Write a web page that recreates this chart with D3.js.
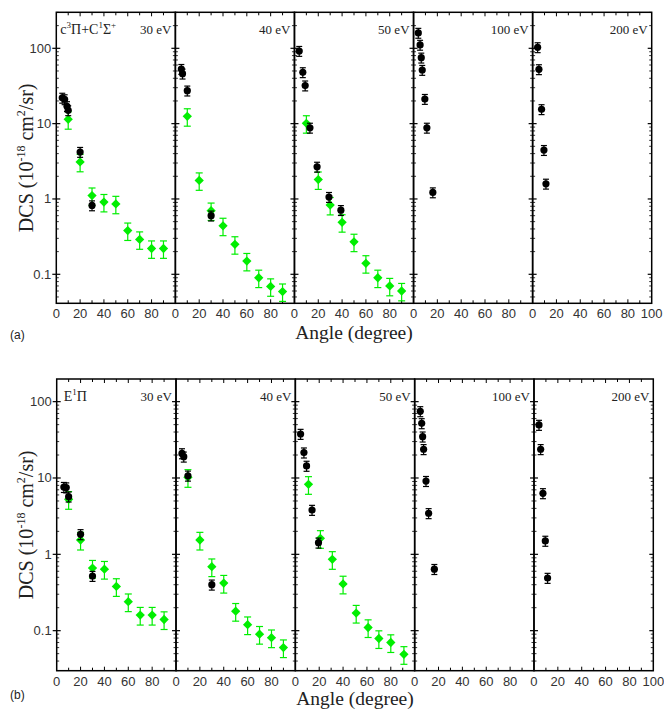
<!DOCTYPE html>
<html><head><meta charset="utf-8">
<script src="https://cdn.jsdelivr.net/npm/d3@7"></script>
<style>body{margin:0;background:#fff}svg{display:block}</style>
</head><body>
<svg id="c" width="664" height="711"></svg>
<script>
// ---------- data ----------
const energies = ["30 eV", "40 eV", "50 eV", "100 eV", "200 eV"];
const xTicks = [0, 20, 40, 60, 80, 100];
const yTicks = [0.1, 1, 10, 100];
const yTickLabels = ["0.1", "1", "10", "100"];

// (a) c3Pi + C1Sigma+ : [angle, DCS]
const aBlack30 = [[5, 22], [7, 21], [9, 17], [10, 15], [20, 4.2], [30, 0.82]];
const aGreen30 = [[10, 11.4], [20, 3.1], [30, 1.11], [40, 0.91], [50, 0.86], [60, 0.38], [70, 0.29], [80, 0.22], [90, 0.22]];
const aBlack40 = [[5, 53], [6, 46], [10, 27.4], [30, 0.6]];
const aGreen40 = [[10, 12.5], [20, 1.76], [30, 0.7], [40, 0.44], [50, 0.25], [60, 0.15], [70, 0.09], [80, 0.069], [90, 0.059]];
const aBlack50 = [[4, 92], [7, 48], [9, 32], [13, 8.8], [19, 2.67], [29, 1.06], [39, 0.71]];
const aGreen50 = [[10, 10.1], [20, 1.81], [30, 0.83], [40, 0.49], [50, 0.27], [60, 0.14], [70, 0.09], [80, 0.07], [90, 0.06]];
const aBlack100 = [[4, 160], [5.5, 111], [6.5, 75], [7.3, 51.5], [9.5, 21.2], [11.2, 8.8], [16.2, 1.22]];
const aBlack200 = [[4.2, 103], [5.3, 52.6], [7.5, 15.5], [9.5, 4.45], [11.2, 1.59]];

// (b) E1Pi
const bBlack30 = [[6, 7.6], [8, 7.5], [10, 5.7], [20, 1.83], [30, 0.52]];
const bGreen30 = [[10, 5.26], [20, 1.54], [30, 0.66], [40, 0.64], [50, 0.38], [60, 0.24], [70, 0.16], [80, 0.16], [90, 0.14]];
const bBlack40 = [[5, 21], [6.5, 19], [10, 10.7], [30, 0.4]];
const bGreen40 = [[10, 10.2], [20, 1.54], [30, 0.69], [40, 0.42], [50, 0.18], [60, 0.12], [70, 0.09], [80, 0.081], [90, 0.06]];
const bBlack50 = [[4.4, 37.7], [7.2, 21.5], [9.4, 14.4], [14, 3.81], [19.4, 1.42]];
const bGreen50 = [[11, 8.26], [21, 1.62], [31, 0.86], [40, 0.41], [51, 0.17], [61, 0.11], [70, 0.079], [80, 0.07], [91, 0.049]];
const bBlack100 = [[4.7, 74.7], [5.9, 52], [6.7, 34.8], [7.5, 23.8], [9.5, 9.1], [11.7, 3.45], [16.5, 0.64]];
const bBlack200 = [[4.2, 49.5], [5.6, 23.8], [7.5, 6.3], [9.5, 1.5], [11.4, 0.49]];

const blackErr = 0.15;   // relative error bars
const greenErr = 0.26;

// ---------- drawing ----------
const svg = d3.select("#c");
const GREEN = "#00ee00";

function drawRow(cfg) {
  const pw = (cfg.right - cfg.left) / 5;
  const y = d3.scaleLog().domain(cfg.ydom).range([cfg.bottom, cfg.top]);
  const g = svg.append("g");
  const minors = [];
  for (let d = -2; d <= 2; d++) for (let m = 2; m <= 9; m++) {
    const v = m * Math.pow(10, d);
    if (v > cfg.ydom[0] && v < cfg.ydom[1]) minors.push(v);
  }
  cfg.sets.forEach((s, i) => {
    const x0 = cfg.left + i * pw;
    const x = d3.scaleLinear().domain([0, 100]).range([x0, x0 + pw]);
    const p = g.append("g");
    d3.range(10, 100, 10).forEach(t => {
      const len = t % 20 === 0 ? 4 : 3;
      p.append("line").attr("x1", x(t)).attr("x2", x(t)).attr("y1", cfg.bottom).attr("y2", cfg.bottom - len).attr("stroke", "#000").attr("stroke-width", 1);
      p.append("line").attr("x1", x(t)).attr("x2", x(t)).attr("y1", cfg.top).attr("y2", cfg.top + len).attr("stroke", "#000").attr("stroke-width", 1);
    });
    [x0, x0 + pw].forEach((ex, k) => {
      const dir = k === 0 ? 1 : -1;
      yTicks.forEach(t => {
        p.append("line").attr("x1", ex - 4 * dir * (i === 0 && k === 0 ? 1 : 0)).attr("x2", ex + 4 * dir).attr("y1", y(t)).attr("y2", y(t)).attr("stroke", "#000").attr("stroke-width", 1.2);
      });
      minors.forEach(t => {
        p.append("line").attr("x1", ex).attr("x2", ex + 2.5 * dir).attr("y1", y(t)).attr("y2", y(t)).attr("stroke", "#000").attr("stroke-width", 0.8);
      });
    });
    const labs = i === 4 ? xTicks : xTicks.slice(0, 5);
    labs.forEach(t => {
      g.append("text").attr("x", x(t)).attr("y", cfg.bottom + 15).attr("text-anchor", "middle")
        .attr("font-family", "Liberation Sans, Arial, sans-serif").attr("font-size", 13).attr("fill", "#333").text(t);
    });
    g.append("text").attr("x", x0 + pw - 4).attr("y", cfg.top + cfg.labDy).attr("text-anchor", "end")
      .attr("font-family", "Liberation Serif, Times New Roman, serif").attr("font-size", 13).attr("fill", "#222").text(energies[i]);
    const drawErr = (data, e, col, cap) => {
      data.forEach(d => {
        const cx = x(d[0]), hi = y(d[1] * (1 + e)), lo = y(d[1] * (1 - e));
        p.append("line").attr("x1", cx).attr("x2", cx).attr("y1", hi).attr("y2", lo).attr("stroke", col).attr("stroke-width", 1.2);
        [hi, lo].forEach(yy => p.append("line").attr("x1", cx - cap).attr("x2", cx + cap).attr("y1", yy).attr("y2", yy).attr("stroke", col).attr("stroke-width", 1.2));
      });
    };
    if (s.green) {
      drawErr(s.green, greenErr, GREEN, 3.5);
      p.selectAll(null).data(s.green).enter().append("path")
        .attr("d", d3.symbol(d3.symbolDiamond2, 55)())
        .attr("transform", d => `translate(${x(d[0])},${y(d[1])})`).attr("fill", GREEN);
    }
    drawErr(s.black, blackErr, "#000", 3);
    p.selectAll(null).data(s.black).enter().append("circle")
      .attr("cx", d => x(d[0])).attr("cy", d => y(d[1])).attr("r", 3.6).attr("fill", "#000");
  });
  for (let i = 0; i < 5; i++) {
    g.append("rect").attr("x", cfg.left + i * pw).attr("y", cfg.top).attr("width", pw).attr("height", cfg.bottom - cfg.top)
      .attr("fill", "none").attr("stroke", "#000").attr("stroke-width", 1.5);
  }
  yTicks.forEach((t, k) => {
    g.append("text").attr("x", cfg.left - 5).attr("y", y(t) + 4.5).attr("text-anchor", "end")
      .attr("font-family", "Liberation Sans, Arial, sans-serif").attr("font-size", 13).attr("fill", "#333").text(yTickLabels[k]);
  });
  const cy = (cfg.top + cfg.bottom) / 2;
  const yt = g.append("text").attr("transform", `translate(33,${cy}) rotate(-90)`).attr("text-anchor", "middle")
    .attr("font-family", "Liberation Serif, Times New Roman, serif").attr("font-size", 20).attr("fill", "#222");
  yt.append("tspan").text("DCS (10");
  yt.append("tspan").attr("font-size", 12).attr("dy", -8).text("-18");
  yt.append("tspan").attr("dy", 8).text(" cm");
  yt.append("tspan").attr("font-size", 12).attr("dy", -8).text("2");
  yt.append("tspan").attr("dy", 8).text("/sr)");
  g.append("text").attr("x", (cfg.left + cfg.right) / 2).attr("y", cfg.bottom + cfg.titleDy).attr("text-anchor", "middle")
    .attr("font-family", "Liberation Serif, Times New Roman, serif").attr("font-size", 19.5).attr("fill", "#222").text("Angle (degree)");
  g.append("text").attr("x", 10).attr("y", cfg.bottom + cfg.letterDy).attr("font-family", "Liberation Sans, Arial, sans-serif")
    .attr("font-size", 12).attr("fill", "#222").text(cfg.letter);
  const st = g.append("text").attr("x", cfg.left + cfg.stDx).attr("y", cfg.top + cfg.labDy)
    .attr("font-family", "Liberation Serif, Times New Roman, serif").attr("font-size", 14).attr("fill", "#222");
  cfg.state.forEach(part => {
    const ts = st.append("tspan").text(part[0]);
    if (part[1] === "sup") ts.attr("font-size", 9).attr("dy", -6);
    else if (part[1] === "base") ts.attr("dy", 6);
  });
}

drawRow({
  left: 56.3, right: 651.7, top: 12.3, bottom: 303.3, ydom: [0.0412, 300.6], labDy: 22, stDx: 4, letter: "(a)",
  titleDy: 36, letterDy: 36,
  state: [["c"], ["3", "sup"], ["Π", "base"], ["+C"], ["1", "sup"], ["Σ", "base"], ["+", "sup"]],
  sets: [
    { black: aBlack30, green: aGreen30 }, { black: aBlack40, green: aGreen40 }, { black: aBlack50, green: aGreen50 },
    { black: aBlack100 }, { black: aBlack200 }
  ]
});
drawRow({
  left: 56.7, right: 653.3, top: 379, bottom: 670.7, ydom: [0.0299, 198], labDy: 22, stDx: 7, letter: "(b)",
  titleDy: 34.5, letterDy: 28,
  state: [["E"], ["1", "sup"], ["Π", "base"]],
  sets: [
    { black: bBlack30, green: bGreen30 }, { black: bBlack40, green: bGreen40 }, { black: bBlack50, green: bGreen50 },
    { black: bBlack100 }, { black: bBlack200 }
  ]
});
</script>
</body></html>
